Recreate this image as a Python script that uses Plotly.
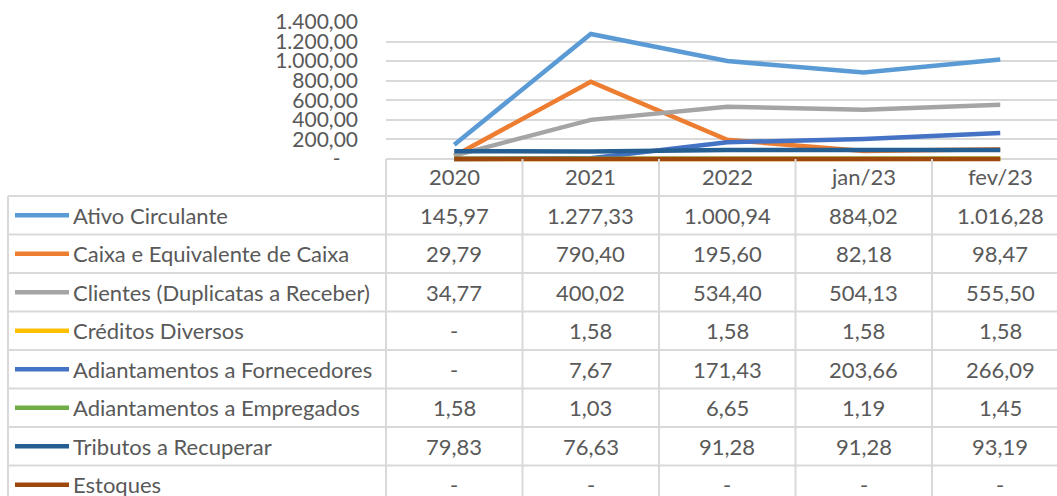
import plotly.graph_objects as go

# ---------------- data ----------------
categories = ["2020", "2021", "2022", "jan/23", "fev/23"]
series_names = [
    "Ativo Circulante",
    "Caixa e Equivalente de Caixa",
    "Clientes (Duplicatas a Receber)",
    "Créditos Diversos",
    "Adiantamentos a Fornecedores",
    "Adiantamentos a Empregados",
    "Tributos a Recuperar",
    "Estoques",
]
ativo_circulante = [145.97, 1277.33, 1000.94, 884.02, 1016.28]
caixa_equivalente = [29.79, 790.40, 195.60, 82.18, 98.47]
clientes = [34.77, 400.02, 534.40, 504.13, 555.50]
creditos_diversos = [0, 1.58, 1.58, 1.58, 1.58]
adiant_fornecedores = [0, 7.67, 171.43, 203.66, 266.09]
adiant_empregados = [1.58, 1.03, 6.65, 1.19, 1.45]
tributos = [79.83, 76.63, 91.28, 91.28, 93.19]
estoques = [0, 0, 0, 0, 0]
series_values = [ativo_circulante, caixa_equivalente, clientes, creditos_diversos,
                 adiant_fornecedores, adiant_empregados, tributos, estoques]
y_tick_values = [0, 200, 400, 600, 800, 1000, 1200, 1400]

colors = ["#5B9BD5", "#ED7D31", "#A5A5A5", "#FFC000",
          "#4472C4", "#70AD47", "#255E91", "#9E480E"]

# ---------------- helpers ----------------
W, H = 1057, 496
TXT = "#595959"
GRID = "#D9D9D9"
FONT = "Lato"
FS = 22


def br(v):
    if v == 0:
        return "-"
    s = f"{v:,.2f}"
    return s.replace(",", "X").replace(".", ",").replace("X", ".")


def px(x):
    return x / W


def py(y):
    return 1 - y / H


plot_left = 386
col_w = 136.5
axis_top, axis_zero, axis_bottom = 22, 159, 165
scale = (axis_zero - axis_top) / 1400.0
ymin = -(axis_bottom - axis_zero) / scale

fig = go.Figure()
for name, vals, c in zip(series_names, series_values, colors):
    fig.add_trace(go.Scatter(
        x=categories, y=vals, name=name, mode="lines",
        line=dict(color=c, width=4.5), cliponaxis=False, showlegend=False,
    ))

fig.update_layout(
    width=W, height=H,
    margin=dict(l=0, r=0, t=0, b=0, pad=0),
    paper_bgcolor="white", plot_bgcolor="white",
    font=dict(family=FONT, color=TXT),
    showlegend=False,
    xaxis=dict(
        type="category", domain=[px(plot_left), 1],
        range=[-0.5, -0.5 + (W - plot_left) / col_w],
        showgrid=False, showticklabels=False, zeroline=False, showline=False,
        automargin=False,
    ),
    yaxis=dict(
        domain=[py(axis_bottom), py(axis_top)],
        range=[ymin, 1400],
        tickvals=y_tick_values,
        ticktext=["-\u2007 "] + [br(v) for v in y_tick_values[1:]],
        tickfont=dict(size=21, color=TXT, family=FONT),
        ticklabelstandoff=27,
        showgrid=True, gridcolor=GRID, gridwidth=2,
        zeroline=False, showline=False, ticks="",
        automargin=False,
    ),
)

shapes = []
annotations = []
line_style = dict(color=GRID, width=2)

# table geometry
header_top = axis_zero
header_bottom = 196
row_h = 38.5
n_rows = len(series_names)
table_left = 8
col_edges = [plot_left + i * col_w for i in range(len(categories) + 1)]

# horizontal lines
for i in range(n_rows):
    y = header_bottom + i * row_h
    shapes.append(dict(type="line", xref="paper", yref="paper",
                       x0=px(table_left), x1=1, y0=py(y), y1=py(y), line=line_style))
# vertical lines
shapes.append(dict(type="line", xref="paper", yref="paper",
                   x0=px(table_left), x1=px(table_left), y0=py(header_bottom), y1=0,
                   line=line_style))
for xe in col_edges[:-1]:
    shapes.append(dict(type="line", xref="paper", yref="paper",
                       x0=px(xe), x1=px(xe), y0=py(header_top), y1=0, line=line_style))

# header labels
for i, cat in enumerate(categories):
    annotations.append(dict(x=i, y=py((header_top + header_bottom) / 2 - 1), xref="x", yref="paper",
                            text=cat, showarrow=False, xanchor="center", yanchor="middle",
                            font=dict(size=FS, color=TXT, family=FONT)))

# rows
for r, (name, vals, c) in enumerate(zip(series_names, series_values, colors)):
    yc = header_bottom + r * row_h + row_h / 2
    shapes.append(dict(type="line", xref="paper", yref="paper",
                       x0=px(15), x1=px(69), y0=py(yc), y1=py(yc),
                       line=dict(color=c, width=4.5)))
    annotations.append(dict(x=px(71), y=py(yc), xref="paper", yref="paper",
                            text=name, showarrow=False, xanchor="left", yanchor="middle",
                            font=dict(size=FS, color=TXT, family=FONT)))
    for i, v in enumerate(vals):
        annotations.append(dict(x=i, y=py(yc), xref="x", yref="paper",
                                text=br(v), showarrow=False, xanchor="center", yanchor="middle",
                                font=dict(size=FS, color=TXT, family=FONT)))

fig.update_layout(shapes=shapes, annotations=annotations)
fig.write_html("out.html", config={"displayModeBar": False},
               post_script="document.body.style.margin='0';")
